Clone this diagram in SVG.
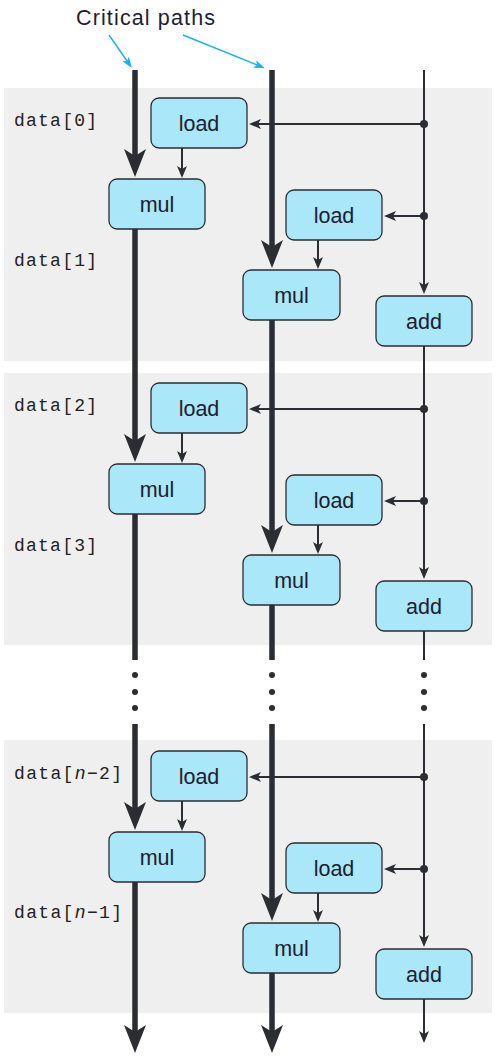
<svg xmlns="http://www.w3.org/2000/svg" width="497" height="1060" viewBox="0 0 497 1060">
<defs>
<style>
.band{fill:#efefef}
.box{fill:#a9e7f9;stroke:#2b2d33;stroke-width:1.3}
.bt{font-family:"Liberation Sans",Arial,sans-serif;font-size:21.5px;fill:#1e2030;text-anchor:middle}
.lbl{font-family:"Liberation Mono","DejaVu Sans Mono",monospace;font-size:18px;fill:#222}
.thick{stroke:#2b2d33;stroke-width:5.5;fill:none}
.thin{stroke:#2b2d33;stroke-width:2;fill:none}
.blue{stroke:#1bb0ea;stroke-width:1.4;fill:none}
.dot{fill:#2b2d33}
</style>
<marker id="bigArrow" markerUnits="userSpaceOnUse" viewBox="0 -11 28 22" refX="7" refY="0" markerWidth="28" markerHeight="22" orient="auto">
<path d="M0,-11 L28,0 L0,11 L7,0 Z" fill="#2b2d33"/>
</marker>
<marker id="smallArrow" markerUnits="userSpaceOnUse" viewBox="0 -5 12 10" refX="3" refY="0" markerWidth="12" markerHeight="10" orient="auto">
<path d="M0,-5 L12,0 L0,5 L3,0 Z" fill="#2b2d33"/>
</marker>
<marker id="blueArrow" markerUnits="userSpaceOnUse" viewBox="0 -4 11 8" refX="2.5" refY="0" markerWidth="11" markerHeight="8" orient="auto">
<path d="M0,-4 L11,0 L0,4 L2.5,0 Z" fill="#1bb0ea"/>
</marker>
</defs>
<g id="bands">
<rect class="band" x="4" y="88" width="488" height="273"/>
<rect class="band" x="4" y="373" width="488" height="272"/>
<rect class="band" x="4" y="740" width="488" height="273"/>
</g>
<g id="annotation">
<text x="76" y="25" font-family="'Liberation Sans',Arial,sans-serif" font-size="21.5" fill="#1e2030" textLength="139">Critical paths</text>
<line class="blue" x1="109" y1="35" x2="127" y2="61" marker-end="url(#blueArrow)"/>
<line class="blue" x1="183" y1="35" x2="257" y2="65" marker-end="url(#blueArrow)"/>
</g>
<g id="labels">
<text class="lbl" x="14" y="126" textLength="83">data[0]</text>
<text class="lbl" x="14" y="266" textLength="83">data[1]</text>
<text class="lbl" x="14" y="411" textLength="83">data[2]</text>
<text class="lbl" x="14" y="551" textLength="83">data[3]</text>
<text class="lbl" x="14" y="779" textLength="108">data[<tspan font-style="italic">n</tspan>−2]</text>
<text class="lbl" x="14" y="918" textLength="108">data[<tspan font-style="italic">n</tspan>−1]</text>
</g>
<g id="connectors">
<line class="thick" x1="135" y1="70" x2="135" y2="156" marker-end="url(#bigArrow)"/>
<line class="thick" x1="135" y1="229" x2="135" y2="441" marker-end="url(#bigArrow)"/>
<line class="thick" x1="135" y1="514" x2="135" y2="660"/>
<line class="thick" x1="135" y1="724" x2="135" y2="809" marker-end="url(#bigArrow)"/>
<line class="thick" x1="135" y1="881" x2="135" y2="1032" marker-end="url(#bigArrow)"/>
<line class="thick" x1="272" y1="70" x2="272" y2="247" marker-end="url(#bigArrow)"/>
<line class="thick" x1="272" y1="320" x2="272" y2="532" marker-end="url(#bigArrow)"/>
<line class="thick" x1="272" y1="605" x2="272" y2="660"/>
<line class="thick" x1="272" y1="724" x2="272" y2="900" marker-end="url(#bigArrow)"/>
<line class="thick" x1="272" y1="973" x2="272" y2="1032" marker-end="url(#bigArrow)"/>
<line class="thin" x1="424" y1="70" x2="424" y2="285" marker-end="url(#smallArrow)"/>
<line class="thin" x1="424" y1="346" x2="424" y2="570" marker-end="url(#smallArrow)"/>
<line class="thin" x1="424" y1="631" x2="424" y2="660"/>
<line class="thin" x1="424" y1="724" x2="424" y2="938" marker-end="url(#smallArrow)"/>
<line class="thin" x1="424" y1="999" x2="424" y2="1034" marker-end="url(#smallArrow)"/>
<line class="thin" x1="424" y1="124" x2="258" y2="124" marker-end="url(#smallArrow)"/>
<line class="thin" x1="424" y1="216" x2="393" y2="216" marker-end="url(#smallArrow)"/>
<line class="thin" x1="182" y1="148" x2="182" y2="169" marker-end="url(#smallArrow)"/>
<line class="thin" x1="318" y1="240" x2="318" y2="260" marker-end="url(#smallArrow)"/>
<line class="thin" x1="424" y1="409" x2="258" y2="409" marker-end="url(#smallArrow)"/>
<line class="thin" x1="424" y1="501" x2="393" y2="501" marker-end="url(#smallArrow)"/>
<line class="thin" x1="182" y1="433" x2="182" y2="454" marker-end="url(#smallArrow)"/>
<line class="thin" x1="318" y1="525" x2="318" y2="545" marker-end="url(#smallArrow)"/>
<line class="thin" x1="424" y1="777" x2="258" y2="777" marker-end="url(#smallArrow)"/>
<line class="thin" x1="424" y1="869" x2="393" y2="869" marker-end="url(#smallArrow)"/>
<line class="thin" x1="182" y1="801" x2="182" y2="822" marker-end="url(#smallArrow)"/>
<line class="thin" x1="318" y1="893" x2="318" y2="913" marker-end="url(#smallArrow)"/>
<circle class="dot" cx="424" cy="124" r="4"/>
<circle class="dot" cx="424" cy="216" r="4"/>
<circle class="dot" cx="424" cy="409" r="4"/>
<circle class="dot" cx="424" cy="501" r="4"/>
<circle class="dot" cx="424" cy="777" r="4"/>
<circle class="dot" cx="424" cy="869" r="4"/>
<circle class="dot" cx="135" cy="675" r="3"/>
<circle class="dot" cx="135" cy="692" r="3"/>
<circle class="dot" cx="135" cy="708" r="3"/>
<circle class="dot" cx="272" cy="675" r="3"/>
<circle class="dot" cx="272" cy="692" r="3"/>
<circle class="dot" cx="272" cy="708" r="3"/>
<circle class="dot" cx="424" cy="675" r="3"/>
<circle class="dot" cx="424" cy="692" r="3"/>
<circle class="dot" cx="424" cy="708" r="3"/>
</g>
<g id="load0"><rect class="box" x="151" y="98" width="96" height="50" rx="8"/><text class="bt" x="199" y="131">load</text></g>
<g id="mul0"><rect class="box" x="109" y="179" width="96" height="50" rx="8"/><text class="bt" x="157" y="212">mul</text></g>
<g id="load1"><rect class="box" x="286" y="190" width="96" height="50" rx="8"/><text class="bt" x="334" y="223">load</text></g>
<g id="mul1"><rect class="box" x="243" y="270" width="97" height="50" rx="8"/><text class="bt" x="291.5" y="303">mul</text></g>
<g id="add1"><rect class="box" x="376" y="296" width="96" height="50" rx="8"/><text class="bt" x="424" y="329">add</text></g>
<g id="load2"><rect class="box" x="151" y="383" width="96" height="50" rx="8"/><text class="bt" x="199" y="416">load</text></g>
<g id="mul2"><rect class="box" x="109" y="464" width="96" height="50" rx="8"/><text class="bt" x="157" y="497">mul</text></g>
<g id="load3"><rect class="box" x="286" y="475" width="96" height="50" rx="8"/><text class="bt" x="334" y="508">load</text></g>
<g id="mul3"><rect class="box" x="243" y="555" width="97" height="50" rx="8"/><text class="bt" x="291.5" y="588">mul</text></g>
<g id="add3"><rect class="box" x="376" y="581" width="96" height="50" rx="8"/><text class="bt" x="424" y="614">add</text></g>
<g id="loadn2"><rect class="box" x="151" y="751" width="96" height="50" rx="8"/><text class="bt" x="199" y="784">load</text></g>
<g id="muln2"><rect class="box" x="109" y="832" width="96" height="50" rx="8"/><text class="bt" x="157" y="865">mul</text></g>
<g id="loadn1"><rect class="box" x="286" y="843" width="96" height="50" rx="8"/><text class="bt" x="334" y="876">load</text></g>
<g id="muln1"><rect class="box" x="243" y="923" width="97" height="50" rx="8"/><text class="bt" x="291.5" y="956">mul</text></g>
<g id="addn1"><rect class="box" x="376" y="949" width="96" height="50" rx="8"/><text class="bt" x="424" y="982">add</text></g>
</svg>
